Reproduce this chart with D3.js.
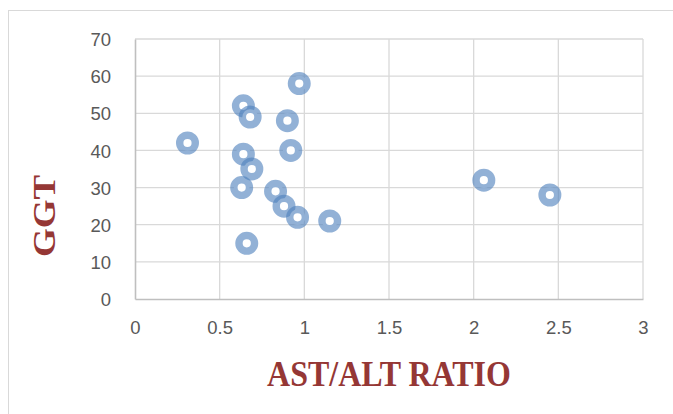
<!DOCTYPE html>
<html><head><meta charset="utf-8">
<script src="https://cdn.jsdelivr.net/npm/d3@7/dist/d3.min.js"></script>
<style>body{margin:0;background:#fff;}svg{display:block;}</style>
</head><body>
<script>
const ratio = [0.31, 0.64, 0.68, 0.97, 0.90, 0.92, 0.64, 0.69, 0.63, 0.83, 0.88, 0.96, 1.15, 0.66, 2.06, 2.45];
const ggt   = [42, 52, 49, 58, 48, 40, 39, 35, 30, 29, 25, 22, 21, 15, 32, 28];
const xTicks = [0, 0.5, 1, 1.5, 2, 2.5, 3];
const yTicks = [0, 10, 20, 30, 40, 50, 60, 70];
const xTitle = "AST/ALT RATIO";
const yTitle = "GGT";

const W = 673, H = 414;
const svg = d3.select("body").append("svg").attr("width", W).attr("height", H);

svg.append("rect").attr("x", 8.5).attr("y", 10.5).attr("width", 680).attr("height", 420)
  .attr("fill", "none").attr("stroke", "#d9d9d9").attr("stroke-width", 1);

const x = d3.scaleLinear().domain([0, 3]).range([135, 643]);
const y = d3.scaleLinear().domain([0, 70]).range([299, 39]);

const grid = svg.append("g");
grid.selectAll(".gx").data(xTicks.slice(1)).join("line")
  .attr("x1", d => x(d)).attr("x2", d => x(d)).attr("y1", y(0)).attr("y2", y(70))
  .attr("stroke", "#d9d9d9").attr("stroke-width", 1.3);
grid.selectAll(".gy").data(yTicks.slice(1)).join("line")
  .attr("x1", x(0)).attr("x2", x(3)).attr("y1", d => y(d)).attr("y2", d => y(d))
  .attr("stroke", "#d9d9d9").attr("stroke-width", 1.3);

const xAxis = svg.append("g").attr("transform", `translate(0,${y(0)})`)
  .call(d3.axisBottom(x).tickValues(xTicks).tickSize(0).tickPadding(22).tickFormat(d => String(d)));
const yAxis = svg.append("g").attr("transform", `translate(${x(0)},0)`)
  .call(d3.axisLeft(y).tickValues(yTicks).tickSize(0).tickPadding(24).tickFormat(d => String(d)));
[xAxis, yAxis].forEach(a => {
  a.select(".domain").attr("stroke", "#bfbfbf").attr("stroke-width", 1.6);
  a.selectAll("text").attr("font-family", "'Liberation Sans', Arial, sans-serif")
    .attr("font-size", 18.5).attr("fill", "#595959");
});
yAxis.selectAll("text").attr("dy", "0.36em");

svg.append("g").selectAll("circle").data(ratio.map((r, i) => [r, ggt[i]])).join("circle")
  .attr("cx", d => x(d[0])).attr("cy", d => y(d[1])).attr("r", 7.8)
  .attr("fill", "#ffffff").attr("stroke", "#4f81bd").attr("stroke-opacity", 0.62)
  .attr("stroke-width", 7.4);

svg.append("g").attr("transform", "translate(389,386) scale(1,1.1)")
  .append("text").attr("text-anchor", "middle")
  .attr("font-family", "'Liberation Serif', 'Times New Roman', serif").attr("font-weight", "bold")
  .attr("font-size", 32).attr("fill", "#953735").text(xTitle);

svg.append("g").attr("transform", "translate(55,216) rotate(-90) scale(1,0.88)")
  .append("text").attr("text-anchor", "middle")
  .attr("font-family", "'Liberation Serif', 'Times New Roman', serif").attr("font-weight", "bold")
  .attr("font-size", 37).attr("fill", "#953735").text(yTitle);
</script>
</body></html>
